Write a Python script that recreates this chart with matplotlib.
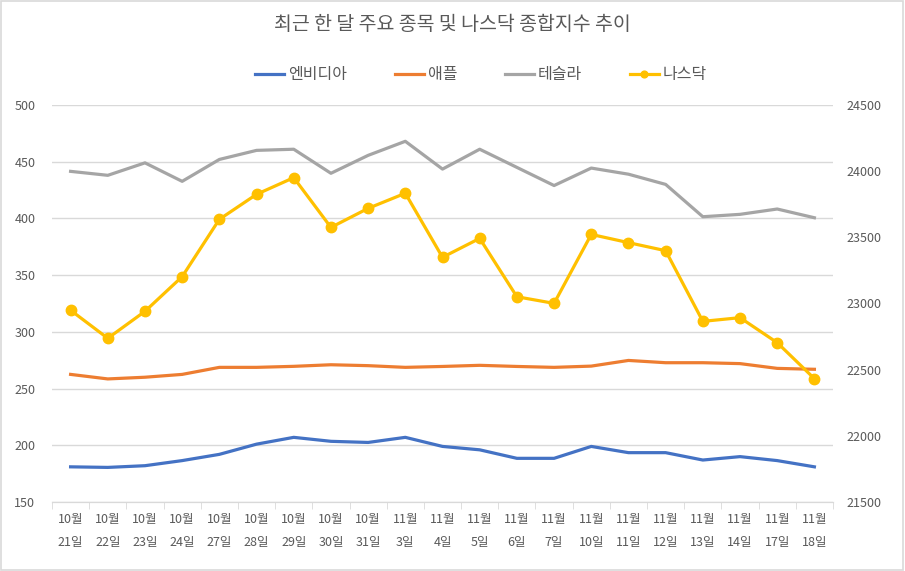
import matplotlib
matplotlib.use("Agg")
import matplotlib.pyplot as plt
from matplotlib.patches import Rectangle
import numpy as np

plt.rcParams['font.family'] = ['Noto Sans CJK KR', 'DejaVu Sans']

dates = ["10월\n21일", "10월\n22일", "10월\n23일", "10월\n24일", "10월\n27일", "10월\n28일",
         "10월\n29일", "10월\n30일", "10월\n31일", "11월\n3일", "11월\n4일", "11월\n5일",
         "11월\n6일", "11월\n7일", "11월\n10일", "11월\n11일", "11월\n12일", "11월\n13일",
         "11월\n14일", "11월\n17일", "11월\n18일"]

nvidia = [181, 180.5, 182, 186.5, 192, 201, 207, 203.5, 202.5, 207, 199, 196,
          188.5, 188.5, 199, 193.5, 193.5, 187, 190, 186.5, 181]
apple = [262.5, 258.5, 260, 262.5, 268.7, 268.7, 269.6, 271, 270.2, 268.7, 269.5, 270.5,
         269.5, 268.7, 269.8, 274.8, 272.8, 272.8, 272, 267.8, 267]
tesla = [441.5, 438, 449, 432.7, 452, 460, 461, 439.8, 455.6, 468, 443.5, 461, 445,
         429, 444.4, 439, 430, 401.5, 403.6, 408.3, 400.6]
nasdaq = [22949, 22737, 22941, 23203, 23636, 23825, 23951, 23575, 23719, 23833, 23349,
          23492, 23051, 23001, 23522, 23460, 23399, 22865, 22893, 22704, 22432]

text_color = '#595959'
grid_color = '#D9D9D9'

fig = plt.figure(figsize=(9.05, 5.71), dpi=100)
ax = fig.add_axes([52/905, 1-502/571, (833-52)/905, (502-105)/571])
ax2 = ax.twinx()

x = np.arange(len(dates))
l1, = ax.plot(x, nvidia, color='#4472C4', linewidth=2.3, label='엔비디아')
l2, = ax.plot(x, apple, color='#ED7D31', linewidth=2.3, label='애플')
l3, = ax.plot(x, tesla, color='#A5A5A5', linewidth=2.3, label='테슬라')
l4, = ax2.plot(x, nasdaq, color='#FFC000', linewidth=2.3, marker='o', markersize=7.5,
               label='나스닥')

ax.set_xlim(-0.5, len(dates)-0.5)
ax.set_ylim(150, 500)
ax.set_yticks(np.arange(150, 501, 50))
ax2.set_ylim(21500, 24500)
ax2.set_yticks(np.arange(21500, 24501, 500))

ax.yaxis.grid(True, color=grid_color, linewidth=1)
ax.set_axisbelow(True)

for a in (ax, ax2):
  for s in ['top', 'left', 'right']:
    a.spines[s].set_visible(False)
  a.spines['bottom'].set_color(grid_color)
  a.tick_params(axis='y', length=0, labelsize=9, labelcolor=text_color)

ax.tick_params(axis='y', pad=12)
ax2.tick_params(axis='y', pad=10)

# category labels centered, tick marks on the boundaries
ax.set_xticks(x)
ax.set_xticklabels(dates, linespacing=2.0)
ax.tick_params(axis='x', length=0, labelsize=9, labelcolor=text_color, pad=8)
ax.set_xticks(np.arange(-0.5, len(dates), 1), minor=True)
ax.tick_params(axis='x', which='minor', length=5, color=grid_color)

fig.text(0.5, 1-25/571, '최근 한 달 주요 종목 및 나스닥 종합지수 추이', ha='center', va='center',
         fontsize=14, color=text_color)

fig.legend(handles=[l1, l2, l3, l4], loc='center', bbox_to_anchor=(481/905, 1-75/571),
           ncol=4, frameon=False, fontsize=11.5, handlelength=1.8, handletextpad=0.25,
           columnspacing=3.0, markerscale=0.65, labelcolor=text_color)

fig.patches.append(Rectangle((0.001, 0.001), 0.997, 0.997, transform=fig.transFigure,
                             fill=False, edgecolor='#D9D9D9', linewidth=1.2))

plt.savefig('out.png', dpi=100)
plt.close()
